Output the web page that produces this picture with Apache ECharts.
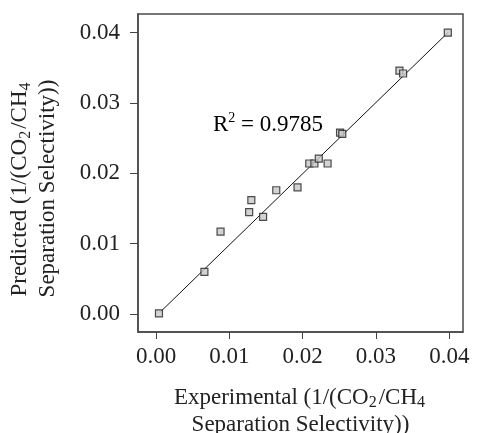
<!DOCTYPE html>
<html><head><meta charset="utf-8">
<script src="https://cdn.jsdelivr.net/npm/echarts@6/dist/echarts.min.js"></script>
<style>html,body{margin:0;padding:0;background:#fff}#c{width:483px;height:433px}</style>
</head><body><div id="c"></div>
<script>
var expX = [0.0004,0.0066,0.0088,0.0127,0.0130,0.0146,0.0164,0.0193,0.0209,0.0216,0.0222,0.0234,0.0251,0.0254,0.0332,0.0337,0.0398];
var predY = [0.0001,0.0060,0.0117,0.0145,0.0162,0.0138,0.0176,0.0180,0.0214,0.0214,0.0221,0.0214,0.0258,0.0256,0.0346,0.0342,0.0400];
var fitX = [0.0006, 0.0398];
var fitY = [0.0003, 0.0400];
var tickValues = [0, 0.01, 0.02, 0.03, 0.04];
var tickLabels = ['0.00','0.01','0.02','0.03','0.04'];
var r2Text = '0.9785';

var pts = expX.map(function(x,i){return [x,predY[i]];});
var fit = fitX.map(function(x,i){return [x,fitY[i]];});
var FONT = '"Liberation Serif","Times New Roman",serif';
var chart = echarts.init(document.getElementById('c'));
function nameRich(lh){
  return {
    a:{fontFamily:FONT,fontSize:23,color:'#222',lineHeight:lh},
    s:{fontFamily:FONT,fontSize:16,color:'#222',lineHeight:17.6,verticalAlign:'bottom',padding:[0,2,0,0]}
  };
}
function tickFmt(v){
  for (var i=0;i<tickValues.length;i++){ if (Math.abs(v-tickValues[i])<1e-9) return tickLabels[i]; }
  return '';
}
chart.setOption({
  animation:false,
  grid:{left:138,top:14,right:20,bottom:101,outerBoundsMode:'none',containLabel:false,show:true,borderColor:'#4a4a4a',borderWidth:1.5},
  xAxis:{type:'value',min:-0.00246,max:0.04187,
    axisLine:{show:true,onZero:false,lineStyle:{color:'#4a4a4a',width:1.5}},
    axisTick:{show:true,length:7,customValues:tickValues,lineStyle:{color:'#444',width:1}},
    splitLine:{show:false},
    axisLabel:{fontFamily:FONT,fontSize:23,color:'#222',margin:13,customValues:tickValues,formatter:tickFmt},
    name:'{a|Experimental (1/(CO}{s|2}{a|/CH}{s|4}\n{a|Separation Selectivity))}',
    nameLocation:'middle',nameGap:52,
    nameTextStyle:{rich:nameRich(27)}
  },
  yAxis:{type:'value',min:-0.00256,max:0.04266,
    axisLine:{show:true,onZero:false,lineStyle:{color:'#4a4a4a',width:1.5}},
    axisTick:{show:true,length:8,customValues:tickValues,lineStyle:{color:'#444',width:1}},
    splitLine:{show:false},
    axisLabel:{fontFamily:FONT,fontSize:23,color:'#222',margin:18,customValues:tickValues,formatter:tickFmt},
    name:'{a|Predicted (1/(CO}{s|2}{a|/CH}{s|4}\n{a|Separation Selectivity))}',
    nameLocation:'middle',nameGap:76,nameRotate:90,
    nameTextStyle:{rich:nameRich(28),padding:[0,31,0,0]}
  },
  series:[
    {type:'line',data:fit,symbol:'none',lineStyle:{color:'#111',width:1},silent:true,z:2},
    {type:'scatter',data:pts,symbol:'rect',symbolSize:7,
     itemStyle:{color:'#c8c8c8',borderColor:'#222',borderWidth:1.2},z:3}
  ],
  graphic:[{type:'text',left:213,top:111,
    style:{text:'{a|R}{p|2}{a| = '+r2Text+'}',
      rich:{a:{fontFamily:FONT,fontSize:23,color:'#222',lineHeight:28},
            p:{fontFamily:FONT,fontSize:14,color:'#222',lineHeight:14,verticalAlign:'top'}}}}]
});
</script></body></html>
